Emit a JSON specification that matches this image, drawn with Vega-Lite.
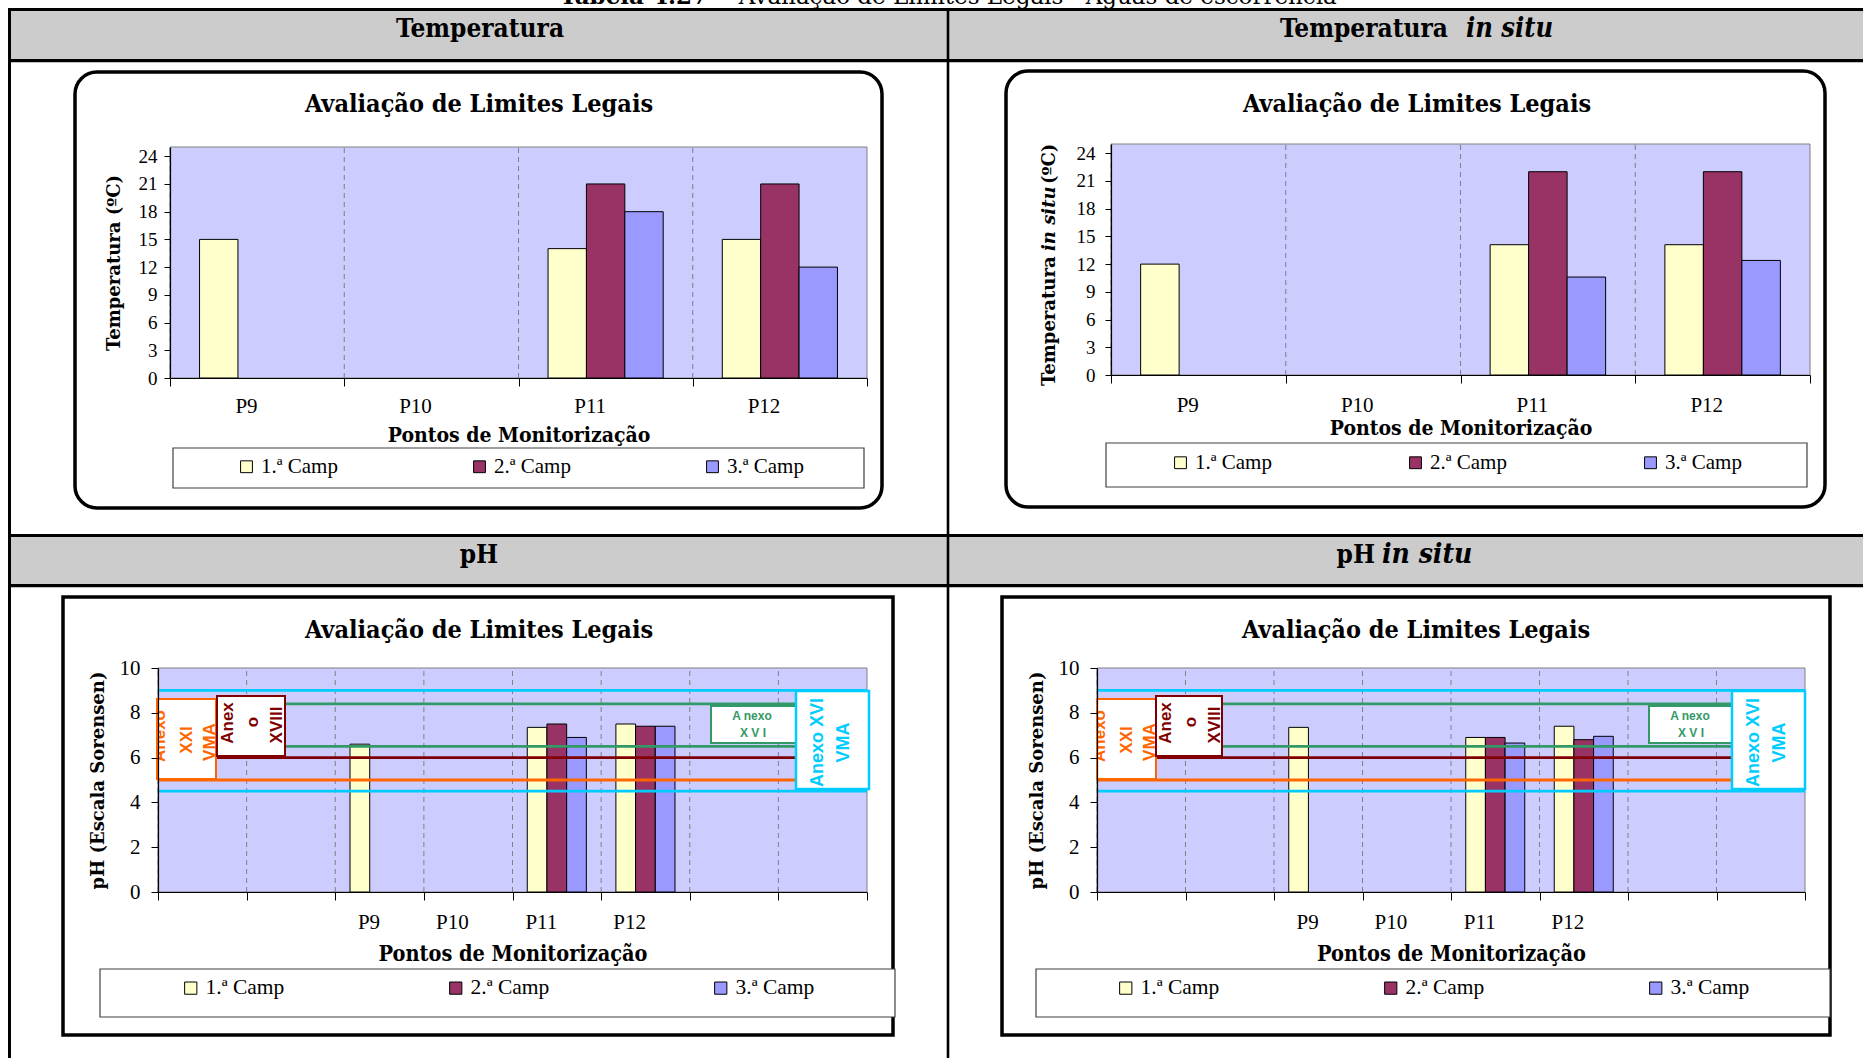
{
"$schema": "https://vega.github.io/schema/vega-lite/v6.json",
"width": 1863, "height": 1058,
"autosize": {"type": "none"},
"padding": 0,
"background": "white",
"config": {
  "view": {"stroke": null},
  "axis": {"domainColor": "black", "domainWidth": 1.2, "tickColor": "black", "tickWidth": 1, "labelColor": "black", "titleColor": "black", "grid": false, "labelFont": "Liberation Serif"}
},
"datasets": {
  "temperatura": [
    {"ponto": "P9", "campanha": "1.ª Camp", "valor": 15},
    {"ponto": "P11", "campanha": "1.ª Camp", "valor": 14},
    {"ponto": "P11", "campanha": "2.ª Camp", "valor": 21},
    {"ponto": "P11", "campanha": "3.ª Camp", "valor": 18},
    {"ponto": "P12", "campanha": "1.ª Camp", "valor": 15},
    {"ponto": "P12", "campanha": "2.ª Camp", "valor": 21},
    {"ponto": "P12", "campanha": "3.ª Camp", "valor": 12}
  ],
  "temperatura_in_situ": [
    {"ponto": "P9", "campanha": "1.ª Camp", "valor": 12},
    {"ponto": "P11", "campanha": "1.ª Camp", "valor": 14.1},
    {"ponto": "P11", "campanha": "2.ª Camp", "valor": 22},
    {"ponto": "P11", "campanha": "3.ª Camp", "valor": 10.6},
    {"ponto": "P12", "campanha": "1.ª Camp", "valor": 14.1},
    {"ponto": "P12", "campanha": "2.ª Camp", "valor": 22},
    {"ponto": "P12", "campanha": "3.ª Camp", "valor": 12.4}
  ],
  "ph": [
    {"ponto": "P9", "campanha": "1.ª Camp", "valor": 6.6},
    {"ponto": "P11", "campanha": "1.ª Camp", "valor": 7.35},
    {"ponto": "P11", "campanha": "2.ª Camp", "valor": 7.5},
    {"ponto": "P11", "campanha": "3.ª Camp", "valor": 6.9},
    {"ponto": "P12", "campanha": "1.ª Camp", "valor": 7.5},
    {"ponto": "P12", "campanha": "2.ª Camp", "valor": 7.4},
    {"ponto": "P12", "campanha": "3.ª Camp", "valor": 7.4}
  ],
  "ph_in_situ": [
    {"ponto": "P9", "campanha": "1.ª Camp", "valor": 7.35},
    {"ponto": "P11", "campanha": "1.ª Camp", "valor": 6.9},
    {"ponto": "P11", "campanha": "2.ª Camp", "valor": 6.9},
    {"ponto": "P11", "campanha": "3.ª Camp", "valor": 6.65},
    {"ponto": "P12", "campanha": "1.ª Camp", "valor": 7.4},
    {"ponto": "P12", "campanha": "2.ª Camp", "valor": 6.8},
    {"ponto": "P12", "campanha": "3.ª Camp", "valor": 6.95}
  ],
  "limites": [
    {"anexo": "Anexo XXI VMA", "limite": 5.0},
    {"anexo": "Anexo XVIII", "limite": 6.0},
    {"anexo": "Anexo XVI VMR", "limite": 6.5},
    {"anexo": "Anexo XVI VMR", "limite": 8.4},
    {"anexo": "Anexo XVI VMA", "limite": 4.5},
    {"anexo": "Anexo XVI VMA", "limite": 9.0}
  ],
  "pontos4": [{"ponto": "P9"}, {"ponto": "P10"}, {"ponto": "P11"}, {"ponto": "P12"}],
  "pontos8": [{"ponto": " "}, {"ponto": "  "}, {"ponto": "P9"}, {"ponto": "P10"}, {"ponto": "P11"}, {"ponto": "P12"}, {"ponto": "   "}, {"ponto": "    "}]
},
"resolve": {
  "scale": {"x": "independent", "y": "independent", "xOffset": "independent", "color": "independent", "stroke": "independent"},
  "axis": {"x": "independent", "y": "independent"},
  "legend": {"color": "independent", "stroke": "independent"}
},
"layer": [
  {"layer": [
    {"data": {"values": [{}]}, "mark": {"type": "rect", "x": 9, "x2": 1880, "y": 10, "y2": 60, "fill": "#CCCCCC"}, "encoding": {}},
    {"data": {"values": [{}]}, "mark": {"type": "rect", "x": 9, "x2": 1880, "y": 536, "y2": 585, "fill": "#CCCCCC"}, "encoding": {}},
    {"data": {"values": [{}]}, "mark": {"type": "rect", "x": 8, "x2": 1880, "y": 8, "y2": 11, "fill": "black"}, "encoding": {}},
    {"data": {"values": [{}]}, "mark": {"type": "rect", "x": 8, "x2": 1880, "y": 59, "y2": 62.3, "fill": "black"}, "encoding": {}},
    {"data": {"values": [{}]}, "mark": {"type": "rect", "x": 8, "x2": 1880, "y": 534, "y2": 537, "fill": "black"}, "encoding": {}},
    {"data": {"values": [{}]}, "mark": {"type": "rect", "x": 8, "x2": 1880, "y": 584, "y2": 587.3, "fill": "black"}, "encoding": {}},
    {"data": {"values": [{}]}, "mark": {"type": "rect", "x": 8, "x2": 11, "y": 8, "y2": 1070, "fill": "black"}, "encoding": {}},
    {"data": {"values": [{}]}, "mark": {"type": "rect", "x": 946.7, "x2": 949.3, "y": 8, "y2": 1070, "fill": "black"}, "encoding": {}},
    {"data": {"values": [{}]}, "mark": {"type": "text", "x": 708, "y": 4, "text": "Tabela 4.27", "font": "DejaVu Serif", "fontWeight": "bold", "fontSize": 23, "align": "right", "baseline": "alphabetic", "fill": "black"}, "encoding": {}},
    {"data": {"values": [{}]}, "mark": {"type": "text", "x": 720, "y": 4, "text": "– Avaliação de Limites Legais - Águas de escorrência", "font": "DejaVu Serif", "fontSize": 23, "align": "left", "baseline": "alphabetic", "fill": "black"}, "encoding": {}},
    {"data": {"values": [{}]}, "mark": {"type": "text", "x": 480, "y": 29, "text": "Temperatura", "font": "DejaVu Serif Condensed, DejaVu Serif", "fontWeight": "bold", "fontSize": 26, "align": "center", "baseline": "middle", "fill": "black"}, "encoding": {}},
    {"data": {"values": [{}]}, "mark": {"type": "text", "x": 1448, "y": 29, "text": "Temperatura", "font": "DejaVu Serif Condensed, DejaVu Serif", "fontWeight": "bold", "fontSize": 26, "align": "right", "baseline": "middle", "fill": "black"}, "encoding": {}},
    {"data": {"values": [{}]}, "mark": {"type": "text", "x": 1466, "y": 29, "text": "in situ", "font": "DejaVu Serif Condensed, DejaVu Serif", "fontWeight": "bold", "fontStyle": "italic", "fontSize": 27, "align": "left", "baseline": "middle", "fill": "black"}, "encoding": {}},
    {"data": {"values": [{}]}, "mark": {"type": "text", "x": 479, "y": 555, "text": "pH", "font": "DejaVu Serif Condensed, DejaVu Serif", "fontWeight": "bold", "fontSize": 26, "align": "center", "baseline": "middle", "fill": "black"}, "encoding": {}},
    {"data": {"values": [{}]}, "mark": {"type": "text", "x": 1375, "y": 555, "text": "pH", "font": "DejaVu Serif Condensed, DejaVu Serif", "fontWeight": "bold", "fontSize": 26, "align": "right", "baseline": "middle", "fill": "black"}, "encoding": {}},
    {"data": {"values": [{}]}, "mark": {"type": "text", "x": 1382, "y": 555, "text": "in situ", "font": "DejaVu Serif Condensed, DejaVu Serif", "fontWeight": "bold", "fontStyle": "italic", "fontSize": 28, "align": "left", "baseline": "middle", "fill": "black"}, "encoding": {}}
  ]},
  {"layer": [
    {"data": {"values": [{}]}, "mark": {"type": "rect", "x": 75, "x2": 882, "y": 72, "y2": 508, "cornerRadius": 22, "fill": "white", "stroke": "black", "strokeWidth": 3.5}, "encoding": {}},
    {"data": {"values": [{}]}, "mark": {"type": "text", "x": 479, "y": 104, "text": "Avaliação de Limites Legais", "font": "DejaVu Serif Condensed, DejaVu Serif", "fontWeight": "bold", "fontSize": 25, "align": "center", "baseline": "middle", "fill": "black"}, "encoding": {}},
    {"data": {"values": [{}]}, "mark": {"type": "rect", "x": 170, "x2": 867, "y": 147, "y2": 378, "fill": "#CCCCFF", "stroke": "#808080", "strokeWidth": 1}, "encoding": {}},
    {"data": {"values": [{}]}, "mark": {"type": "rect", "x": 173, "x2": 864, "y": 448, "y2": 488, "fill": "white", "stroke": "#404040", "strokeWidth": 1.2}, "encoding": {}},
    {"data": {"name": "pontos4"}, "mark": {"type": "rule", "stroke": "#808080", "strokeDash": [5, 4], "strokeWidth": 1},
     "encoding": {
       "x": {"field": "ponto", "type": "nominal", "bandPosition": 0, "scale": {"domain": ["P9", "P10", "P11", "P12"], "range": [170, 867], "paddingInner": 0, "paddingOuter": 0}},
       "y": {"datum": 0, "type": "quantitative", "scale": {"domain": [0, 25], "range": [378, 147], "nice": false}},
       "y2": {"datum": 25}
     }},
    {"data": {"name": "temperatura"}, "mark": {"type": "bar", "stroke": "black", "strokeWidth": 1},
     "encoding": {
       "x": {"field": "ponto", "type": "nominal", "scale": {"domain": ["P9", "P10", "P11", "P12"], "range": [170, 867], "paddingInner": 0, "paddingOuter": 0},
             "axis": {"orient": "bottom", "offset": -680, "tickBand": "extent", "tickSize": 8, "labelAngle": 0, "labelFontSize": 21, "labelPadding": 20, "title": "Pontos de Monitorização", "titleFont": "DejaVu Serif Condensed, DejaVu Serif", "titleFontWeight": "bold", "titleFontSize": 21, "titlePadding": 8, "zindex": 1}},
       "xOffset": {"field": "campanha", "type": "nominal", "scale": {"domain": ["1.ª Camp", "2.ª Camp", "3.ª Camp"], "paddingInner": 0, "paddingOuter": 0.77}},
       "y": {"field": "valor", "type": "quantitative", "scale": {"domain": [0, 25], "range": [378, 147], "nice": false},
             "axis": {"orient": "left", "offset": -170, "values": [0, 3, 6, 9, 12, 15, 18, 21, 24], "tickSize": 6, "labelFontSize": 19, "labelPadding": 7, "title": "Temperatura (ºC)", "titleFont": "DejaVu Serif", "titleFontWeight": "bold", "titleFontSize": 18, "titlePadding": 15, "zindex": 1}},
       "color": {"field": "campanha", "type": "nominal", "scale": {"domain": ["1.ª Camp", "2.ª Camp", "3.ª Camp"], "range": ["#FFFFCC", "#993366", "#9999FF"]},
             "legend": {"orient": "none", "legendX": 236, "legendY": 456, "direction": "horizontal", "title": null, "symbolType": "square", "symbolSize": 140, "symbolStrokeColor": "black", "symbolStrokeWidth": 1, "symbolOpacity": 1, "labelFont": "Liberation Serif", "labelFontSize": 21, "labelColor": "black", "labelOffset": 4, "columnPadding": 131, "padding": 0, "zindex": 1}}
     }}
  ]},
  {"layer": [
    {"data": {"values": [{}]}, "mark": {"type": "rect", "x": 1006, "x2": 1825, "y": 71, "y2": 507, "cornerRadius": 22, "fill": "white", "stroke": "black", "strokeWidth": 3.5}, "encoding": {}},
    {"data": {"values": [{}]}, "mark": {"type": "text", "x": 1417, "y": 104, "text": "Avaliação de Limites Legais", "font": "DejaVu Serif Condensed, DejaVu Serif", "fontWeight": "bold", "fontSize": 25, "align": "center", "baseline": "middle", "fill": "black"}, "encoding": {}},
    {"data": {"values": [{}]}, "mark": {"type": "rect", "x": 1111, "x2": 1810, "y": 144, "y2": 375, "fill": "#CCCCFF", "stroke": "#808080", "strokeWidth": 1}, "encoding": {}},
    {"data": {"values": [{}]}, "mark": {"type": "rect", "x": 1106, "x2": 1807, "y": 443, "y2": 487, "fill": "white", "stroke": "#404040", "strokeWidth": 1.2}, "encoding": {}},
    {"data": {"values": [{}]}, "mark": {"type": "text", "x": 1050, "y": 386, "angle": 270, "text": "Temperatura", "font": "DejaVu Serif", "fontWeight": "bold", "fontSize": 18, "align": "left", "baseline": "middle", "fill": "black"}, "encoding": {}},
    {"data": {"values": [{}]}, "mark": {"type": "text", "x": 1050, "y": 251, "angle": 270, "text": "in situ", "font": "DejaVu Serif", "fontWeight": "bold", "fontStyle": "italic", "fontSize": 18, "align": "left", "baseline": "middle", "fill": "black"}, "encoding": {}},
    {"data": {"values": [{}]}, "mark": {"type": "text", "x": 1050, "y": 184, "angle": 270, "text": "(ºC)", "font": "DejaVu Serif", "fontWeight": "bold", "fontSize": 18, "align": "left", "baseline": "middle", "fill": "black"}, "encoding": {}},
    {"data": {"name": "pontos4"}, "mark": {"type": "rule", "stroke": "#808080", "strokeDash": [5, 4], "strokeWidth": 1},
     "encoding": {
       "x": {"field": "ponto", "type": "nominal", "bandPosition": 0, "scale": {"domain": ["P9", "P10", "P11", "P12"], "range": [1111, 1810], "paddingInner": 0, "paddingOuter": 0}},
       "y": {"datum": 0, "type": "quantitative", "scale": {"domain": [0, 25], "range": [375, 144], "nice": false}},
       "y2": {"datum": 25}
     }},
    {"data": {"name": "temperatura_in_situ"}, "mark": {"type": "bar", "stroke": "black", "strokeWidth": 1},
     "encoding": {
       "x": {"field": "ponto", "type": "nominal", "scale": {"domain": ["P9", "P10", "P11", "P12"], "range": [1111, 1810], "paddingInner": 0, "paddingOuter": 0},
             "axis": {"orient": "bottom", "offset": -683, "tickBand": "extent", "tickSize": 8, "labelAngle": 0, "labelFontSize": 21, "labelPadding": 22, "title": "Pontos de Monitorização", "titleFont": "DejaVu Serif Condensed, DejaVu Serif", "titleFontWeight": "bold", "titleFontSize": 21, "titlePadding": 2, "zindex": 1}},
       "xOffset": {"field": "campanha", "type": "nominal", "scale": {"domain": ["1.ª Camp", "2.ª Camp", "3.ª Camp"], "paddingInner": 0, "paddingOuter": 0.77}},
       "y": {"field": "valor", "type": "quantitative", "scale": {"domain": [0, 25], "range": [375, 144], "nice": false},
             "axis": {"orient": "left", "offset": -1111, "values": [0, 3, 6, 9, 12, 15, 18, 21, 24], "tickSize": 6, "labelFontSize": 19, "labelPadding": 10, "title": null, "zindex": 1}},
       "color": {"field": "campanha", "type": "nominal", "scale": {"domain": ["1.ª Camp", "2.ª Camp", "3.ª Camp"], "range": ["#FFFFCC", "#993366", "#9999FF"]},
             "legend": {"orient": "none", "legendX": 1170, "legendY": 452, "direction": "horizontal", "title": null, "symbolType": "square", "symbolSize": 140, "symbolStrokeColor": "black", "symbolStrokeWidth": 1, "symbolOpacity": 1, "labelFont": "Liberation Serif", "labelFontSize": 21, "labelColor": "black", "labelOffset": 4, "columnPadding": 133, "padding": 0, "zindex": 1}}
     }}
  ]},
  {"layer": [
    {"data": {"values": [{}]}, "mark": {"type": "rect", "x": 63, "x2": 893, "y": 597, "y2": 1035, "fill": "white", "stroke": "black", "strokeWidth": 3.5}, "encoding": {}},
    {"data": {"values": [{}]}, "mark": {"type": "text", "x": 479, "y": 630, "text": "Avaliação de Limites Legais", "font": "DejaVu Serif Condensed, DejaVu Serif", "fontWeight": "bold", "fontSize": 25, "align": "center", "baseline": "middle", "fill": "black"}, "encoding": {}},
    {"data": {"values": [{}]}, "mark": {"type": "rect", "x": 158, "x2": 867, "y": 668, "y2": 892, "fill": "#CCCCFF", "stroke": "#808080", "strokeWidth": 1}, "encoding": {}},
    {"data": {"values": [{}]}, "mark": {"type": "rect", "x": 100, "x2": 895, "y": 969, "y2": 1017, "fill": "white", "stroke": "#404040", "strokeWidth": 1.2}, "encoding": {}},
    {"data": {"name": "pontos8"}, "mark": {"type": "rule", "stroke": "#808080", "strokeDash": [5, 4], "strokeWidth": 1},
     "encoding": {
       "x": {"field": "ponto", "type": "nominal", "bandPosition": 0, "scale": {"domain": [" ", "  ", "P9", "P10", "P11", "P12", "   ", "    "], "range": [158, 867], "paddingInner": 0, "paddingOuter": 0}},
       "y": {"datum": 0, "type": "quantitative", "scale": {"domain": [0, 10], "range": [892, 668], "nice": false}},
       "y2": {"datum": 10}
     }},
    {"data": {"name": "ph"}, "mark": {"type": "bar", "stroke": "black", "strokeWidth": 1},
     "encoding": {
       "x": {"field": "ponto", "type": "nominal", "scale": {"domain": [" ", "  ", "P9", "P10", "P11", "P12", "   ", "    "], "range": [158, 867], "paddingInner": 0, "paddingOuter": 0},
             "axis": {"orient": "bottom", "offset": -166, "tickBand": "extent", "tickSize": 8, "labelAngle": 0, "labelFontSize": 21, "labelPadding": 22, "title": "Pontos de Monitorização", "titleFont": "DejaVu Serif Condensed, DejaVu Serif", "titleFontWeight": "bold", "titleFontSize": 21.5, "titlePadding": 11, "zindex": 1}},
       "xOffset": {"field": "campanha", "type": "nominal", "scale": {"domain": ["1.ª Camp", "2.ª Camp", "3.ª Camp"], "paddingInner": 0, "paddingOuter": 0.75}},
       "y": {"field": "valor", "type": "quantitative", "scale": {"domain": [0, 10], "range": [892, 668], "nice": false},
             "axis": {"orient": "left", "offset": -158, "values": [0, 2, 4, 6, 8, 10], "format": "d", "tickSize": 7, "labelFontSize": 21, "labelPadding": 11, "title": "pH (Escala Sorensen)", "titleFont": "DejaVu Serif", "titleFontWeight": "bold", "titleFontSize": 18, "titlePadding": 12, "zindex": 1}},
       "color": {"field": "campanha", "type": "nominal", "scale": {"domain": ["1.ª Camp", "2.ª Camp", "3.ª Camp"], "range": ["#FFFFCC", "#993366", "#9999FF"]},
             "legend": {"orient": "none", "legendX": 180, "legendY": 977, "direction": "horizontal", "title": null, "symbolType": "square", "symbolSize": 150, "symbolStrokeColor": "black", "symbolStrokeWidth": 1, "symbolOpacity": 1, "labelFont": "Liberation Serif", "labelFontSize": 21.5, "labelColor": "black", "labelOffset": 4, "columnPadding": 160, "padding": 0, "zindex": 1}}
     }},
    {"data": {"name": "limites"}, "mark": {"type": "rule", "x": 158, "x2": 867, "strokeWidth": 2.8},
     "encoding": {
       "y": {"field": "limite", "type": "quantitative", "scale": {"domain": [0, 10], "range": [892, 668], "nice": false}},
       "stroke": {"field": "anexo", "type": "nominal", "scale": {"domain": ["Anexo XXI VMA", "Anexo XVIII", "Anexo XVI VMR", "Anexo XVI VMA"], "range": ["#FF6600", "#800000", "#339966", "#00CCFF"]}, "legend": null}
     }},
    {"data": {"values": [{}]}, "mark": {"type": "rect", "x": 157, "x2": 216, "y": 699, "y2": 779, "fill": "white", "stroke": "#FF6600", "strokeWidth": 2}, "encoding": {}},
    {"data": {"values": [{}]}, "mark": {"type": "text", "x": 160, "y": 736, "angle": 270, "text": "Anexo", "font": "Liberation Sans", "fontWeight": "bold", "fontSize": 17, "align": "center", "baseline": "middle", "fill": "#FF6600"}, "encoding": {}},
    {"data": {"values": [{}]}, "mark": {"type": "rect", "x": 138, "x2": 156, "y": 699, "y2": 779, "fill": "white"}, "encoding": {}},
    {"data": {"values": [{}]}, "mark": {"type": "text", "x": 187, "y": 740, "angle": 270, "text": "XXI", "font": "Liberation Sans", "fontWeight": "bold", "fontSize": 17, "align": "center", "baseline": "middle", "fill": "#FF6600"}, "encoding": {}},
    {"data": {"values": [{}]}, "mark": {"type": "text", "x": 209.5, "y": 742, "angle": 270, "text": "VMA", "font": "Liberation Sans", "fontWeight": "bold", "fontSize": 17, "align": "center", "baseline": "middle", "fill": "#FF6600"}, "encoding": {}},
    {"data": {"values": [{}]}, "mark": {"type": "rect", "x": 217, "x2": 285, "y": 696, "y2": 756, "fill": "white", "stroke": "#800000", "strokeWidth": 2}, "encoding": {}},
    {"data": {"values": [{}]}, "mark": {"type": "text", "x": 227.5, "y": 723, "angle": 270, "text": "Anex", "font": "Liberation Sans", "fontWeight": "bold", "fontSize": 17, "align": "center", "baseline": "middle", "fill": "#800000"}, "encoding": {}},
    {"data": {"values": [{}]}, "mark": {"type": "text", "x": 253, "y": 722, "angle": 270, "text": "o", "font": "Liberation Sans", "fontWeight": "bold", "fontSize": 17, "align": "center", "baseline": "middle", "fill": "#800000"}, "encoding": {}},
    {"data": {"values": [{}]}, "mark": {"type": "text", "x": 277, "y": 725, "angle": 270, "text": "XVIII", "font": "Liberation Sans", "fontWeight": "bold", "fontSize": 17, "align": "center", "baseline": "middle", "fill": "#800000"}, "encoding": {}},
    {"data": {"values": [{}]}, "mark": {"type": "rect", "x": 711, "x2": 796, "y": 706, "y2": 743, "fill": "white", "stroke": "#339966", "strokeWidth": 2}, "encoding": {}},
    {"data": {"values": [{}]}, "mark": {"type": "text", "x": 752, "y": 716, "text": "A nexo", "font": "Liberation Sans", "fontWeight": "bold", "fontSize": 12, "align": "center", "baseline": "middle", "fill": "#339966"}, "encoding": {}},
    {"data": {"values": [{}]}, "mark": {"type": "text", "x": 753, "y": 733, "text": "X V I", "font": "Liberation Sans", "fontWeight": "bold", "fontSize": 12, "align": "center", "baseline": "middle", "fill": "#339966"}, "encoding": {}},
    {"data": {"values": [{}]}, "mark": {"type": "rect", "x": 796, "x2": 869, "y": 691, "y2": 789, "fill": "white", "stroke": "#00CCFF", "strokeWidth": 2.5}, "encoding": {}},
    {"data": {"values": [{}]}, "mark": {"type": "text", "x": 818, "y": 742.5, "angle": 270, "text": "Anexo XVI", "font": "Liberation Sans", "fontWeight": "bold", "fontSize": 18, "align": "center", "baseline": "middle", "fill": "#00CCFF"}, "encoding": {}},
    {"data": {"values": [{}]}, "mark": {"type": "text", "x": 843.7, "y": 742.5, "angle": 270, "text": "VMA", "font": "Liberation Sans", "fontWeight": "bold", "fontSize": 18, "align": "center", "baseline": "middle", "fill": "#00CCFF"}, "encoding": {}}
  ]},
  {"layer": [
    {"data": {"values": [{}]}, "mark": {"type": "rect", "x": 1002, "x2": 1830, "y": 597, "y2": 1035, "fill": "white", "stroke": "black", "strokeWidth": 3.5}, "encoding": {}},
    {"data": {"values": [{}]}, "mark": {"type": "text", "x": 1416, "y": 630, "text": "Avaliação de Limites Legais", "font": "DejaVu Serif Condensed, DejaVu Serif", "fontWeight": "bold", "fontSize": 25, "align": "center", "baseline": "middle", "fill": "black"}, "encoding": {}},
    {"data": {"values": [{}]}, "mark": {"type": "rect", "x": 1097, "x2": 1805, "y": 668, "y2": 892, "fill": "#CCCCFF", "stroke": "#808080", "strokeWidth": 1}, "encoding": {}},
    {"data": {"values": [{}]}, "mark": {"type": "rect", "x": 1036, "x2": 1830, "y": 969, "y2": 1017, "fill": "white", "stroke": "#404040", "strokeWidth": 1.2}, "encoding": {}},
    {"data": {"name": "pontos8"}, "mark": {"type": "rule", "stroke": "#808080", "strokeDash": [5, 4], "strokeWidth": 1},
     "encoding": {
       "x": {"field": "ponto", "type": "nominal", "bandPosition": 0, "scale": {"domain": [" ", "  ", "P9", "P10", "P11", "P12", "   ", "    "], "range": [1097, 1805], "paddingInner": 0, "paddingOuter": 0}},
       "y": {"datum": 0, "type": "quantitative", "scale": {"domain": [0, 10], "range": [892, 668], "nice": false}},
       "y2": {"datum": 10}
     }},
    {"data": {"name": "ph_in_situ"}, "mark": {"type": "bar", "stroke": "black", "strokeWidth": 1},
     "encoding": {
       "x": {"field": "ponto", "type": "nominal", "scale": {"domain": [" ", "  ", "P9", "P10", "P11", "P12", "   ", "    "], "range": [1097, 1805], "paddingInner": 0, "paddingOuter": 0},
             "axis": {"orient": "bottom", "offset": -166, "tickBand": "extent", "tickSize": 8, "labelAngle": 0, "labelFontSize": 21, "labelPadding": 22, "title": "Pontos de Monitorização", "titleFont": "DejaVu Serif Condensed, DejaVu Serif", "titleFontWeight": "bold", "titleFontSize": 21.5, "titlePadding": 11, "zindex": 1}},
       "xOffset": {"field": "campanha", "type": "nominal", "scale": {"domain": ["1.ª Camp", "2.ª Camp", "3.ª Camp"], "paddingInner": 0, "paddingOuter": 0.75}},
       "y": {"field": "valor", "type": "quantitative", "scale": {"domain": [0, 10], "range": [892, 668], "nice": false},
             "axis": {"orient": "left", "offset": -1097, "values": [0, 2, 4, 6, 8, 10], "format": "d", "tickSize": 7, "labelFontSize": 21, "labelPadding": 11, "title": "pH (Escala Sorensen)", "titleFont": "DejaVu Serif", "titleFontWeight": "bold", "titleFontSize": 18, "titlePadding": 12, "zindex": 1}},
       "color": {"field": "campanha", "type": "nominal", "scale": {"domain": ["1.ª Camp", "2.ª Camp", "3.ª Camp"], "range": ["#FFFFCC", "#993366", "#9999FF"]},
             "legend": {"orient": "none", "legendX": 1115, "legendY": 977, "direction": "horizontal", "title": null, "symbolType": "square", "symbolSize": 150, "symbolStrokeColor": "black", "symbolStrokeWidth": 1, "symbolOpacity": 1, "labelFont": "Liberation Serif", "labelFontSize": 21.5, "labelColor": "black", "labelOffset": 4, "columnPadding": 160, "padding": 0, "zindex": 1}}
     }},
    {"data": {"name": "limites"}, "mark": {"type": "rule", "x": 1097, "x2": 1805, "strokeWidth": 2.8},
     "encoding": {
       "y": {"field": "limite", "type": "quantitative", "scale": {"domain": [0, 10], "range": [892, 668], "nice": false}},
       "stroke": {"field": "anexo", "type": "nominal", "scale": {"domain": ["Anexo XXI VMA", "Anexo XVIII", "Anexo XVI VMR", "Anexo XVI VMA"], "range": ["#FF6600", "#800000", "#339966", "#00CCFF"]}, "legend": null}
     }},
    {"data": {"values": [{}]}, "mark": {"type": "rect", "x": 1097, "x2": 1156, "y": 699, "y2": 779, "fill": "white", "stroke": "#FF6600", "strokeWidth": 2}, "encoding": {}},
    {"data": {"values": [{}]}, "mark": {"type": "text", "x": 1100, "y": 736, "angle": 270, "text": "Anexo", "font": "Liberation Sans", "fontWeight": "bold", "fontSize": 17, "align": "center", "baseline": "middle", "fill": "#FF6600"}, "encoding": {}},
    {"data": {"values": [{}]}, "mark": {"type": "rect", "x": 1076, "x2": 1096, "y": 699, "y2": 779, "fill": "white"}, "encoding": {}},
    {"data": {"values": [{}]}, "mark": {"type": "text", "x": 1127, "y": 740, "angle": 270, "text": "XXI", "font": "Liberation Sans", "fontWeight": "bold", "fontSize": 17, "align": "center", "baseline": "middle", "fill": "#FF6600"}, "encoding": {}},
    {"data": {"values": [{}]}, "mark": {"type": "text", "x": 1149.5, "y": 742, "angle": 270, "text": "VMA", "font": "Liberation Sans", "fontWeight": "bold", "fontSize": 17, "align": "center", "baseline": "middle", "fill": "#FF6600"}, "encoding": {}},
    {"data": {"values": [{}]}, "mark": {"type": "rect", "x": 1156, "x2": 1222, "y": 696, "y2": 756, "fill": "white", "stroke": "#800000", "strokeWidth": 2}, "encoding": {}},
    {"data": {"values": [{}]}, "mark": {"type": "text", "x": 1166, "y": 723, "angle": 270, "text": "Anex", "font": "Liberation Sans", "fontWeight": "bold", "fontSize": 17, "align": "center", "baseline": "middle", "fill": "#800000"}, "encoding": {}},
    {"data": {"values": [{}]}, "mark": {"type": "text", "x": 1191, "y": 722, "angle": 270, "text": "o", "font": "Liberation Sans", "fontWeight": "bold", "fontSize": 17, "align": "center", "baseline": "middle", "fill": "#800000"}, "encoding": {}},
    {"data": {"values": [{}]}, "mark": {"type": "text", "x": 1214.5, "y": 725, "angle": 270, "text": "XVIII", "font": "Liberation Sans", "fontWeight": "bold", "fontSize": 17, "align": "center", "baseline": "middle", "fill": "#800000"}, "encoding": {}},
    {"data": {"values": [{}]}, "mark": {"type": "rect", "x": 1649, "x2": 1732, "y": 706, "y2": 743, "fill": "white", "stroke": "#339966", "strokeWidth": 2}, "encoding": {}},
    {"data": {"values": [{}]}, "mark": {"type": "text", "x": 1690, "y": 716, "text": "A nexo", "font": "Liberation Sans", "fontWeight": "bold", "fontSize": 12, "align": "center", "baseline": "middle", "fill": "#339966"}, "encoding": {}},
    {"data": {"values": [{}]}, "mark": {"type": "text", "x": 1691, "y": 733, "text": "X V I", "font": "Liberation Sans", "fontWeight": "bold", "fontSize": 12, "align": "center", "baseline": "middle", "fill": "#339966"}, "encoding": {}},
    {"data": {"values": [{}]}, "mark": {"type": "rect", "x": 1732, "x2": 1805, "y": 691, "y2": 789, "fill": "white", "stroke": "#00CCFF", "strokeWidth": 2.5}, "encoding": {}},
    {"data": {"values": [{}]}, "mark": {"type": "text", "x": 1754, "y": 742.5, "angle": 270, "text": "Anexo XVI", "font": "Liberation Sans", "fontWeight": "bold", "fontSize": 18, "align": "center", "baseline": "middle", "fill": "#00CCFF"}, "encoding": {}},
    {"data": {"values": [{}]}, "mark": {"type": "text", "x": 1779.7, "y": 742.5, "angle": 270, "text": "VMA", "font": "Liberation Sans", "fontWeight": "bold", "fontSize": 18, "align": "center", "baseline": "middle", "fill": "#00CCFF"}, "encoding": {}}
  ]}
]
}
